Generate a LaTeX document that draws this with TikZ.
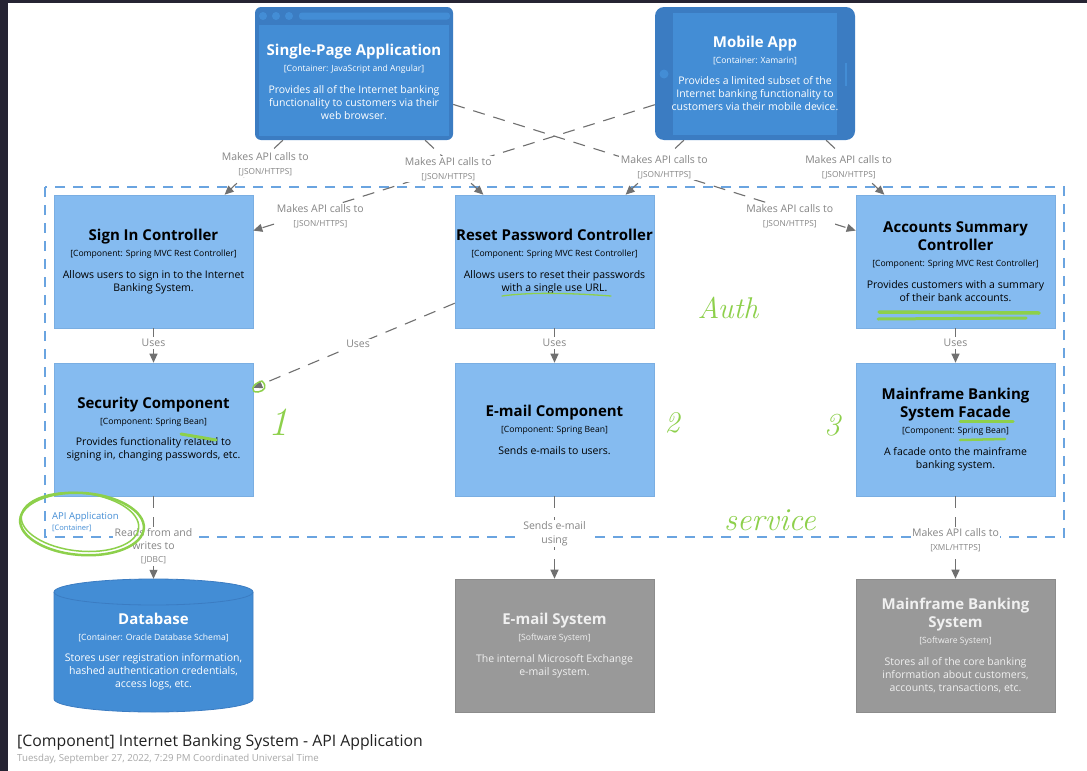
\documentclass[tikz,border=0pt]{standalone}
\usepackage{fontspec}
\setmainfont{Open Sans}
\usetikzlibrary{arrows.meta}

\definecolor{edgeDark}{HTML}{262433}
\definecolor{contBlue}{HTML}{438DD5}
\definecolor{contDark}{HTML}{3B7CC2}
\definecolor{compBlue}{HTML}{85BBF0}
\definecolor{compEdge}{HTML}{7AAEE2}
\definecolor{extGray}{HTML}{999999}
\definecolor{extEdge}{HTML}{8C8C8C}
\definecolor{extText}{HTML}{F0F0F0}
\definecolor{relGray}{HTML}{707070}
\definecolor{lblGray}{HTML}{858585}
\definecolor{bndBlue}{HTML}{6AA4E0}
\definecolor{penGreen}{HTML}{8DD04B}
\definecolor{titleInk}{HTML}{222222}
\definecolor{dateInk}{HTML}{A8A8A8}

% text pieces inside the boxes (baselines are set by the \\[..] gaps)
\newcommand\boxtitle[1]{{\fontsize{15}{0}\selectfont\bfseries #1}}
\newcommand\boxtech[1]{{\fontsize{8.6}{0}\selectfont #1}}
\newcommand\lbltech[1]{{\fontsize{8.3}{0}\selectfont #1}}
\newcommand\tightlines{\lineskiplimit=-1000pt\lineskip=0pt}

\tikzset{
  every node/.style={inner sep=0pt},
  boxtext/.style={align=center, font=\fontsize{10.5}{0}\selectfont\tightlines},
  comp/.style={rectangle, fill=compBlue, draw=compEdge, line width=0.6pt,
    minimum width=199pt, minimum height=133pt},
  ext/.style={comp, fill=extGray, draw=extEdge},
  rel/.style={draw=relGray, line width=1.1pt, dash pattern=on 12pt off 9pt,
    -{Triangle[length=9pt,width=8pt]}},
  lbl/.style={fill=white, inner sep=1.5pt, align=center, text=lblGray,
    font=\fontsize{10.5}{0}\selectfont\tightlines},
  boundary/.style={draw=bndBlue, line width=1.1pt, dash pattern=on 10pt off 8pt},
  pen/.style={draw=penGreen, line width=2pt, line cap=round, line join=round},
  pentext/.style={text=penGreen,
    font=\fontfamily{lmr}\fontshape{it}\fontsize{#1}{#1}\selectfont},
}

\begin{document}
\begin{tikzpicture}[x=1pt,y=-1pt]
\useasboundingbox (0,0) rectangle (1087,771);
\fill[white] (0,0) rectangle (1087,771);
\fill[edgeDark] (0,0) rectangle (8,771);
\fill[edgeDark] (0,0) rectangle (1087,3);

% container boundary
\draw[boundary] (45,187) rectangle (1064,537);

% ---------- containers on top ----------
\node[rectangle, rounded corners=6pt, fill=contDark, minimum width=198pt,
      minimum height=133pt] (spa) at (354,73.5) {};
\fill[contBlue] (259,25) rectangle (449,136);
\fill[contBlue] (263,16) circle[radius=4];
\fill[contBlue] (276,16) circle[radius=4];
\fill[contBlue] (289,16) circle[radius=4];
\fill[contBlue, rounded corners=3pt] (299,12.5) rectangle (450,19.5);
\node[boxtext, text=white] (spa-txt) at (354,82) {%
  \boxtitle{Single-Page Application}\\[16pt]
  \boxtech{[Container: JavaScript and Angular]}\\[22pt]
  Provides all of the Internet banking\\[13pt]
  functionality to customers via their\\[13pt]
  web browser.};

\node[rectangle, rounded corners=9pt, fill=contDark, minimum width=200pt,
      minimum height=133pt] (mobile) at (755,73.5) {};
\fill[contBlue] (673,13) rectangle (837,135);
\fill[contBlue] (664,74) circle[radius=4.5];
\draw[contBlue, line width=1.2pt] (846,63) -- (846,86);
\node[boxtext, text=white] (mobile-txt) at (755,73.6) {%
  \boxtitle{Mobile App}\\[16pt]
  \boxtech{[Container: Xamarin]}\\[21pt]
  Provides a limited subset of the\\[13pt]
  Internet banking functionality to\\[13pt]
  customers via their mobile device.};

% ---------- components ----------
\node[comp] (signin) at (153.5,261.5) {};
\node[boxtext] (signin-txt) at (signin.center) {%
  \boxtitle{Sign In Controller}\\[16pt]
  \boxtech{[Component: Spring MVC Rest Controller]}\\[21.7pt]
  Allows users to sign in to the Internet\\[13.3pt]
  Banking System.};

\node[comp] (reset) at (554.5,261.5) {};
\node[boxtext] (reset-txt) at (reset.center) {%
  \boxtitle{Reset Password Controller}\\[16pt]
  \boxtech{[Component: Spring MVC Rest Controller]}\\[21.7pt]
  Allows users to reset their passwords\\[13.3pt]
  with a single use URL.};

\node[comp] (accounts) at (955.5,261.5) {};
\node[boxtext] (accounts-txt) at (accounts.center) {%
  \boxtitle{Accounts Summary}\\[18pt]
  \boxtitle{Controller}\\[16pt]
  \boxtech{[Component: Spring MVC Rest Controller]}\\[22pt]
  Provides customers with a summary\\[13pt]
  of their bank accounts.};

\node[comp] (sec) at (153.5,429.5) {};
\node[boxtext] (sec-txt) at (sec.center) {%
  \boxtitle{Security Component}\\[16pt]
  \boxtech{[Component: Spring Bean]}\\[21pt]
  Provides functionality related to\\[13pt]
  signing in, changing passwords, etc.};

\node[comp] (email) at (554.5,429.5) {};
\node[boxtext] (email-txt) at (email.center) {%
  \boxtitle{E-mail Component}\\[16pt]
  \boxtech{[Component: Spring Bean]}\\[22pt]
  Sends e-mails to users.};

\node[comp] (facade) at (955.5,429.5) {};
\node[boxtext] (facade-txt) at (facade.center) {%
  \boxtitle{Mainframe Banking}\\[18pt]
  \boxtitle{System Facade}\\[16pt]
  \boxtech{[Component: Spring Bean]}\\[22pt]
  A facade onto the mainframe\\[13pt]
  banking system.};

% ---------- database and external systems ----------
\node[rectangle, minimum width=199pt, minimum height=133pt] (db) at (153.5,645.5) {};
\filldraw[fill=contBlue, draw=contDark, line width=0.8pt]
  (54,592) -- (54,699) arc[start angle=180, end angle=0, x radius=99.5, y radius=13]
  -- (253,592) arc[start angle=0, end angle=-180, x radius=99.5, y radius=13] -- cycle;
\draw[contDark, line width=0.8pt]
  (54,592) arc[start angle=180, end angle=0, x radius=99.5, y radius=13];
\node[boxtext, text=white] (db-txt) at (153.5,651.6) {%
  \boxtitle{Database}\\[16pt]
  \boxtech{[Container: Oracle Database Schema]}\\[21pt]
  Stores user registration information,\\[13pt]
  hashed authentication credentials,\\[13pt]
  access logs, etc.};

\node[ext] (emailsys) at (554.5,645.5) {};
\node[boxtext, text=extText] (emailsys-txt) at (emailsys.center) {%
  \boxtitle{E-mail System}\\[16pt]
  \boxtech{[Software System]}\\[22pt]
  The internal Microsoft Exchange\\[13pt]
  e-mail system.};

\node[ext] (mainframe) at (955.5,645.5) {};
\node[boxtext, text=extText] (mainframe-txt) at (mainframe.center) {%
  \boxtitle{Mainframe Banking}\\[18pt]
  \boxtitle{System}\\[16pt]
  \boxtech{[Software System]}\\[22pt]
  Stores all of the core banking\\[13pt]
  information about customers,\\[13pt]
  accounts, transactions, etc.};

% ---------- relationships ----------
\draw[rel] (spa) -- node[lbl, pos=0.44, xshift=8pt] (l1)
  {Makes API calls to\\[14pt]\lbltech{[JSON/HTTPS]}} (signin);
\draw[rel] (spa) -- node[lbl, pos=0.836, yshift=-6pt] (l2)
  {Makes API calls to\\[14pt]\lbltech{[JSON/HTTPS]}} (accounts);
\draw[rel] (mobile) -- node[lbl, pos=0.833, yshift=-6.5pt] (l3)
  {Makes API calls to\\[14pt]\lbltech{[JSON/HTTPS]}} (signin);
\draw[rel] (spa) -- node[lbl, pos=0.527, xshift=-7.5pt] (l4)
  {Makes API calls to\\[14pt]\lbltech{[JSON/HTTPS]}} (reset);
\draw[rel] (mobile) -- node[lbl, pos=0.49, xshift=9pt] (l5)
  {Makes API calls to\\[14pt]\lbltech{[JSON/HTTPS]}} (reset);
\draw[rel] (mobile) -- node[lbl, pos=0.49, xshift=-6pt] (l6)
  {Makes API calls to\\[14pt]\lbltech{[JSON/HTTPS]}} (accounts);

\draw[rel] (signin) -- node[lbl, pos=0.42] (l7) {Uses} (sec);
\draw[rel] (reset) -- node[lbl, pos=0.48] (l8) {Uses} (sec);
\draw[rel] (reset) -- node[lbl, pos=0.42] (l9) {Uses} (email);
\draw[rel] (accounts) -- node[lbl, pos=0.42] (l10) {Uses} (facade);

\draw[rel] (sec) -- node[lbl, pos=0.61] (l11)
  {Reads from and\\[13pt]writes to\\[13pt]\lbltech{[JDBC]}} (db);
\draw[rel] (email) -- node[lbl, pos=0.45] (l12)
  {Sends e-mail\\[14pt]using} (emailsys);
\draw[rel] (facade) -- node[lbl, pos=0.53] (l13)
  {Makes API calls to\\[14pt]\lbltech{[XML/HTTPS]}} (mainframe);

% boundary caption
\node[anchor=base west, text=contBlue, font=\fontsize{9.5}{11}\selectfont]
  (bnd-name) at (52,519.5) {API Application};
\node[anchor=base west, text=contBlue, font=\fontsize{7.5}{9}\selectfont]
  (bnd-type) at (52,530.5) {[Container]};

% diagram title
\node[anchor=base west, text=titleInk, font=\fontsize{15.8}{18}\selectfont]
  (title) at (17,746.5) {[Component] Internet Banking System - API Application};
\node[anchor=base west, text=dateInk, font=\fontsize{9.7}{11}\selectfont]
  (date) at (17,761.5) {Tuesday, September 27, 2022, 7:29 PM Coordinated Universal Time};

% ---------- green pen notes ----------
\node[pentext=30] (note-auth) at (728,308) {Auth};
\node[pentext=40] (note-1) at (278,422) {1};
\node[pentext=30] (note-2) at (672,423) {2};
\node[pentext=32] (note-3) at (832,425) {3};
\node[pentext=32] (note-service) at (770,520) {service};

\draw[pen, line width=1.3pt] (502,296) .. controls (530,292) and (570,293) .. (611,296);
\draw[pen, line width=3.5pt] (879,312) -- (1039,313);
\draw[pen, line width=3pt] (878,319) -- (1026,318);
\draw[pen, line width=3pt] (181,434) -- (216,440);
\draw[pen, line width=3pt] (960,421) -- (1013,421);
\draw[pen, line width=2.5pt] (960,440) -- (1005,439);
\draw[pen, line width=1.5pt] (262,381) .. controls (251,384) and (250,393) .. (258,392)
  .. controls (264,391) and (268,387) .. (262,381);
\draw[pen, line width=2.5pt, rotate around={-4:(82,524)}] (82,524) ellipse [x radius=62, y radius=31];
\draw[pen, line width=1.5pt, rotate around={-6:(80,522)}] (80,522) ellipse [x radius=59, y radius=29];
\end{tikzpicture}
\end{document}
